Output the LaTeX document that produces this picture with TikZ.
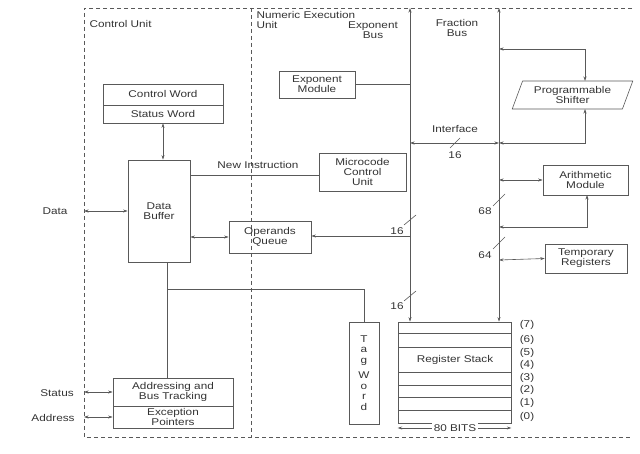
\documentclass[tikz,border=0pt]{standalone}
\usepackage{fontspec}
\setmainfont[FakeStretch=1.2]{Liberation Sans}
\usetikzlibrary{shapes.geometric,arrows.meta}
\begin{document}
\begin{tikzpicture}[x=1pt, y=-1pt, >={Stealth[length=4.5pt,width=3pt]},
		font=\fontsize{9.8}{10}\selectfont, text=black!80,
		line/.style={draw=black!65, line width=0.6pt},
		unit/.style={line, dashed, dash pattern=on 4pt off 3pt},
		box/.style={line, rectangle, align=center, inner sep=0pt},
		slash/.style={line}
		]
	\useasboundingbox (0,0) rectangle (640,454);
	% unit borders
	\draw[unit] (632,8) -- (84,8) -- (84,437) -- (632,437);
	\draw[unit] (251,8) -- (251,437);
	\node[anchor=west] (cu) at (86,24) {Control Unit};
	\node[anchor=north west, align=left] (neu) at (253,8) {Numeric Execution\\Unit};
	\node[align=center] (eb) at (373,30) {Exponent\\Bus};
	\node[align=center] (fb) at (457,28) {Fraction\\Bus};
	% control unit blocks
	\node[box, minimum width=120, minimum height=21] (cw) at (163,94.5) {Control Word};
	\node[box, minimum width=120, minimum height=18] (sw) at (163,114) {Status Word};
	\node[box, minimum width=62, minimum height=102] (buf) at (159,211) {Data\\Buffer};
	\node[box, minimum width=120, minimum height=28] (adr) at (173,392) {Addressing and\\Bus Tracking};
	\node[box, minimum width=120, minimum height=22] (exc) at (173,417) {Exception\\Pointers};
	\node (data) at (55,211) {Data};
	\node (status) at (57,393) {Status};
	\node (address) at (53,418) {Address};
	% execution unit blocks
	\node[box, minimum width=76, minimum height=27] (exp) at (317,84.5) {Exponent\\Module};
	\node[box, minimum width=87, minimum height=38] (mcu) at (362.5,172) {Microcode\\Control\\Unit};
	\node[box, minimum width=82, minimum height=32] (opq) at (270,237) {Operands\\Queue};
	\node[box, minimum width=30, minimum height=102, font=\fontsize{9.8}{10.5}\selectfont] (tag) at (364,373) {T\\a\\g\\[5pt]W\\o\\r\\d};
	\node[box, minimum width=113, minimum height=101] (reg) at (454.5,372.5) {};
	\node (regl) at (455,360) {Register Stack};
	\node[line, trapezium, trapezium left angle=65, trapezium right angle=115,
		trapezium stretches=true, minimum width=121, minimum height=28, align=center, inner sep=0pt] (shf) at (572.5,95) {Programmable\\Shifter};
	\node[box, minimum width=85, minimum height=30] (ari) at (585.5,180) {Arithmetic\\Module};
	\node[box, minimum width=82, minimum height=29] (tmp) at (586,258.5) {Temporary\\Registers};
	% register rows
	\foreach \y in {333,347,372,385,397,410}
		\draw[line] (398,\y) -- (511,\y);
	\foreach \n/\y in {7/325,6/340,5/353,4/365,3/378,2/390,1/403,0/417}
		\node (r\n) at (527,\y) {(\n)};
	\node[fill=white, inner sep=2pt] (bits) at (455,428) {80 BITS};
	\draw[line, ->] (bits.west) -- (reg.south west |- bits);
	\draw[line, ->] (bits.east) -- (reg.south east |- bits);
	% buses
	\coordinate (ebt) at (410,8);
	\coordinate (fbt) at (499,8);
	\draw[line, <->] (reg.north -| ebt) -- (ebt);
	\draw[line, <->] (reg.north -| fbt) -- (fbt);
	\node (ifc) at (455,129) {Interface};
	\draw[line, <->] (410,143) -- (499,143);
	\draw[slash] (450,148) -- (460,138);
	\node (w1) at (455,155) {16};
	\draw[slash] (404,225) -- (416,215);
	\node (w2) at (397,231) {16};
	\draw[slash] (404,301) -- (416,291);
	\node (w3) at (397,306) {16};
	\draw[slash] (493,206) -- (505,194);
	\node (w4) at (485,211) {68};
	\draw[slash] (493,249) -- (505,237);
	\node (w5) at (485,255) {64};
	% control unit connectors
	\draw[line, <->] (sw.south) -- (buf.north -| sw.south);
	\draw[line, <->] (84,211) -- (buf.west);
	\draw[line, <->] (84,392) -- (adr.west);
	\draw[line, <->] (84,417) -- (exc.west);
	\coordinate (tap) at (167,289);
	\draw[line] (tap |- buf.south) -- (tap |- adr.north);
	\draw[line] (tap) -| (tag.north);
	% execution unit connectors
	\draw[line] (buf.east |- 0,175) -- (mcu.west |- 0,175);
	\node (ni) at (258,165) {New Instruction};
	\draw[line, <->] (buf.east |- opq.west) -- (opq.west);
	\draw[line, ->] (410,236) -- (opq.east |- 0,236);
	\draw[line] (exp.east) -- (exp.east -| ebt);
	\draw[line, <->] (499,49) -| (585,81);
	\draw[line, <->] (499,143) -| (585,109);
	\draw[line, <->] (499,180) -- (ari.west);
	\draw[line, <->] (499,227) -| (587,195);
	\draw[line, <->] (499,260) -- (tmp.west);
\end{tikzpicture}
\end{document}
